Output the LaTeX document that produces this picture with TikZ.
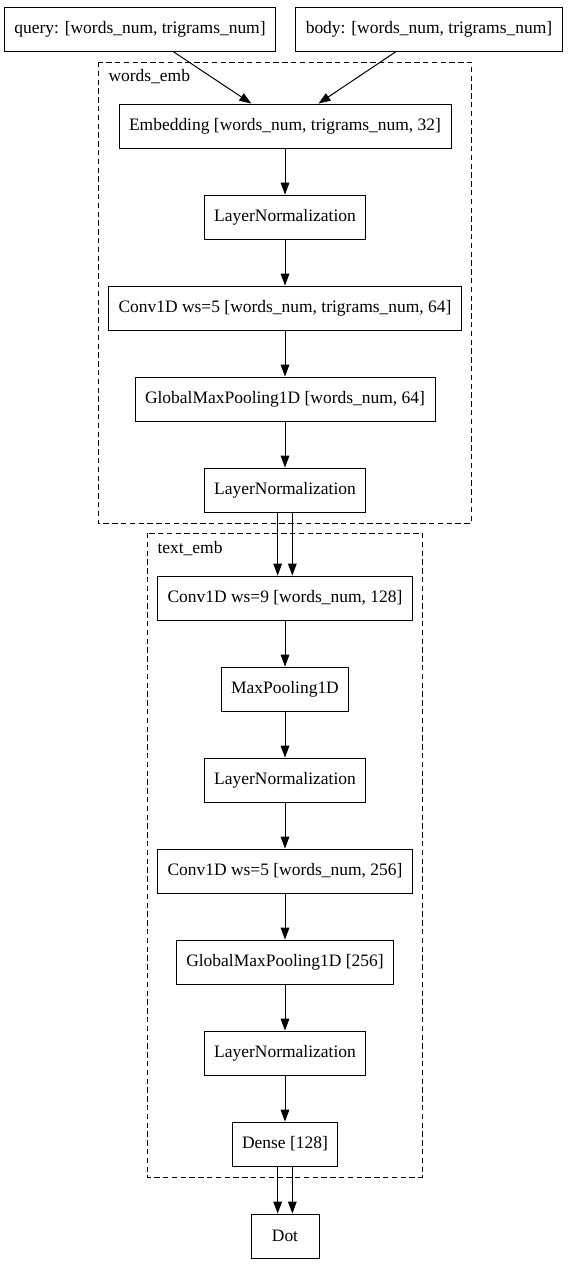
\documentclass[tikz,border=0pt]{standalone}
\usepackage{fontspec}
\setmainfont{Liberation Serif}
\usepackage{tikz}
\usetikzlibrary{shapes, arrows.meta, positioning}
\tikzstyle{block} = [draw, fill=white, rectangle, line width=0.65pt,
    minimum height=33pt, minimum width=51pt, inner xsep=7.5pt,
    font=\fontsize{13.1pt}{15pt}\selectfont]
\tikzstyle{cluster} = [draw, line width=0.65pt, dash pattern=on 4pt off 2.6pt]
\tikzstyle{clabel} = [anchor=west, inner sep=0pt, font=\fontsize{13.1pt}{15pt}\selectfont]
\newcommand{\wn}{words\_num}
\newcommand{\tn}{trigrams\_num}

\begin{document}
\begin{tikzpicture}[auto, x=0.75pt, y=-0.75pt, node distance=68.25pt,
    >={Triangle[length=9pt, width=6.5pt]}, line width=0.75pt]
    \useasboundingbox (0,0) rectangle (568,1265);
    \node [block] (query) at (140,29.5) {query: [\wn, \tn]};
    \node [block] (body) at (429,29.5) {body: [\wn, \tn]};
    \node [block] (emb) at (285,126) {Embedding [\wn, \tn, 32]};
    \node [block, below of=emb] (norm1) {LayerNormalization};
    \node [block, below of=norm1] (conv1) {Conv1D ws=5 [\wn, \tn, 64]};
    \node [block, below of=conv1] (gmp1) {GlobalMaxPooling1D [\wn, 64]};
    \node [block, below of=gmp1] (norm2) {LayerNormalization};
    \node [block, below of=norm2, node distance=81pt] (conv2) {Conv1D ws=9 [\wn, 128]};
    \node [block, below of=conv2] (pool) {MaxPooling1D};
    \node [block, below of=pool] (norm3) {LayerNormalization};
    \node [block, below of=norm3] (conv3) {Conv1D ws=5 [\wn, 256]};
    \node [block, below of=conv3] (gmp2) {GlobalMaxPooling1D [256]};
    \node [block, below of=gmp2] (norm4) {LayerNormalization};
    \node [block, below of=norm4] (dense) {Dense [128]};
    \node [block, below of=dense, node distance=69pt] (dot) {Dot};
    \draw [cluster] (98,62) rectangle (471,523);
    \node [clabel] (wordsemb) at (108,77) {words\_emb};
    \draw [cluster] (147,533) rectangle (422,1177);
    \node [clabel] (textemb) at (157,549) {text\_emb};
    \draw [->] (query) -- (emb);
    \draw [->] (body) -- (emb);
    \draw [->] (emb) -- (norm1);
    \draw [->] (norm1) -- (conv1);
    \draw [->] (conv1) -- (gmp1);
    \draw [->] (gmp1) -- (norm2);
    \draw [->] ([xshift=-5.5pt]norm2.south) -- ([xshift=-5.5pt]conv2.north);
    \draw [->] ([xshift=5.5pt]norm2.south) -- ([xshift=5.5pt]conv2.north);
    \draw [->] (conv2) -- (pool);
    \draw [->] (pool) -- (norm3);
    \draw [->] (norm3) -- (conv3);
    \draw [->] (conv3) -- (gmp2);
    \draw [->] (gmp2) -- (norm4);
    \draw [->] (norm4) -- (dense);
    \draw [->] ([xshift=-5.5pt]dense.south) -- ([xshift=-5.5pt]dot.north);
    \draw [->] ([xshift=5.5pt]dense.south) -- ([xshift=5.5pt]dot.north);
\end{tikzpicture}
\end{document}
